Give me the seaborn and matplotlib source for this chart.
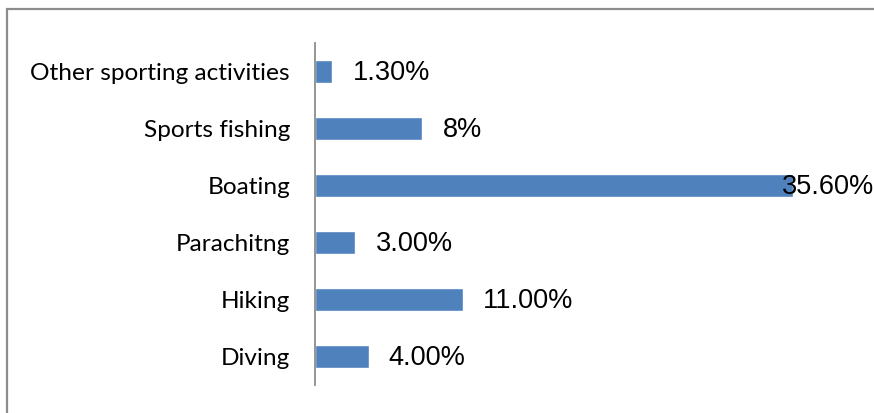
import matplotlib
matplotlib.use("Agg")
import matplotlib.pyplot as plt
import seaborn as sns
import pandas as pd
from matplotlib.patches import Rectangle

# Share of participants by activity
categories = ["Other sporting activities", "Sports fishing", "Boating",
              "Parachitng", "Hiking", "Diving"]
values = [1.3, 8.0, 35.6, 3.0, 11.0, 4.0]
value_labels = ["1.30%", "8%", "35.60%", "3.00%", "11.00%", "4.00%"]

df = pd.DataFrame({"activity": categories, "share": values})

sns.set_theme(style="white")
W, H, DPI = 874, 413, 100
fig = plt.figure(figsize=(W / DPI, H / DPI), dpi=DPI)
fig.patch.set_facecolor("white")

# chart frame
fig.patches.append(Rectangle((7 / W, -0.2), 1.5, 1.2 - 9 / H,
                             transform=fig.transFigure, fill=False,
                             edgecolor="#8c8c8c", linewidth=1.6))

ax = fig.add_axes([315 / W, 28 / H, 1 - 315 / W, (385 - 43) / H])
sns.barplot(data=df, y="activity", x="share", orient="h", order=categories,
            color="#4F81BD", saturation=1, width=0.39, ax=ax)

ax.set_xlim(0, (W - 315) / 13.43)
ax.set_ylim(len(categories) - 0.5, -0.5)
ax.set_xlabel("")
ax.set_ylabel("")
ax.set_xticks([])
for side in ["top", "right", "bottom"]:
    ax.spines[side].set_visible(False)
ax.spines["left"].set_color("#8c8c8c")
ax.spines["left"].set_linewidth(1.3)
ax.tick_params(axis="y", length=0, pad=18)
for t in ax.get_yticklabels():
    t.set_fontfamily("Lato")
    t.set_fontsize(17.6)
    t.set_color("black")

# value labels, kept inside the chart area when the bar is long
fig.canvas.draw()
renderer = fig.canvas.get_renderer()
for i, (v, lab) in enumerate(zip(values, value_labels)):
    t = ax.annotate(lab, xy=(v, i), xytext=(14.5, -1), textcoords="offset points",
                    ha="left", va="center", fontsize=19.5,
                    fontfamily="Liberation Sans", color="black",
                    annotation_clip=False)
    bb = t.get_window_extent(renderer)
    if bb.x1 > fig.bbox.x1:
        t.remove()
        ax.annotate(lab, xy=(1.0, i), xycoords=("axes fraction", "data"),
                    xytext=(0, -1), textcoords="offset points",
                    ha="right", va="center", fontsize=19.5,
                    fontfamily="Liberation Sans", color="black",
                    annotation_clip=False)

fig.savefig("out.png", dpi=DPI)
